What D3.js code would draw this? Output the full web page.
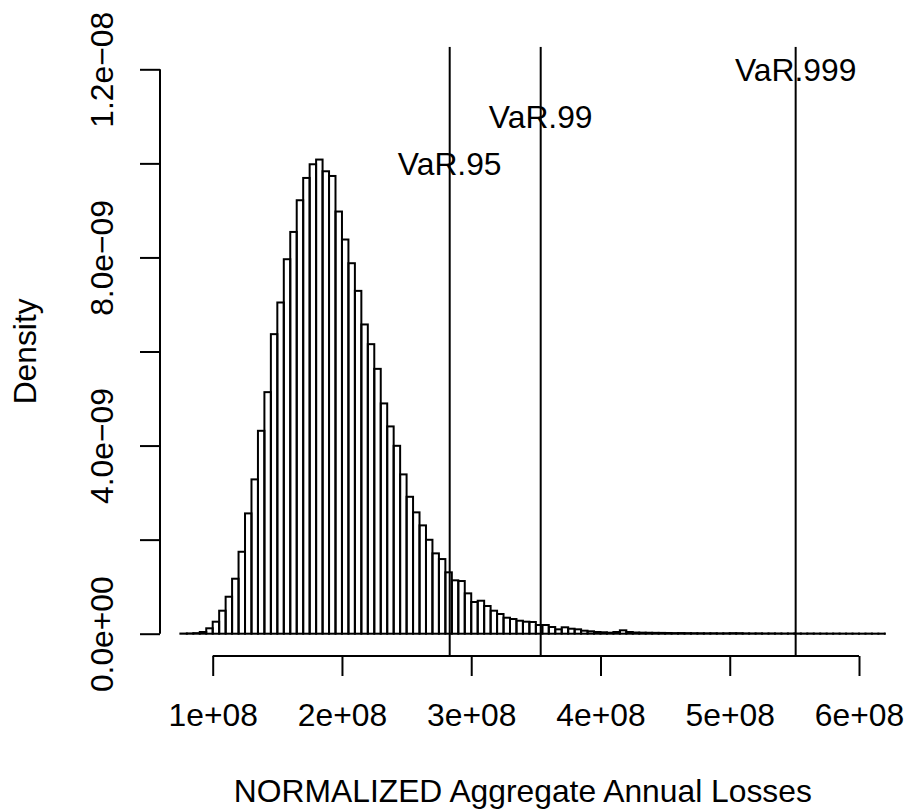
<!DOCTYPE html>
<html>
<head>
<meta charset="utf-8">
<script src="https://cdn.jsdelivr.net/npm/d3@7"></script>
<style>
  html, body { margin: 0; padding: 0; background: #fff; }
  svg { display: block; }
  text { font-family: "Liberation Sans", Arial, Helvetica, sans-serif; fill: #000; }
</style>
</head>
<body>
<svg id="chart" width="907" height="810"></svg>
<script>
// ---- Data ----
const binStart = 7.5e7;     // left edge of first bin
const binWidth = 5e6;       // histogram bin width
// density per bin, in units of 1e-9
const densityE9 = [
  0.003, 0.006, 0.012, 0.036, 0.115, 0.255, 0.489, 0.786, 1.169, 1.742,
  2.558, 3.281, 4.314, 5.136, 6.369, 7.042, 7.962, 8.542, 9.216, 9.690,
  9.981, 10.081, 9.832, 9.732, 8.976, 8.381, 7.877, 7.289, 6.575, 6.156,
  5.631, 4.896, 4.407, 3.995, 3.387, 2.911, 2.580, 2.303, 1.997, 1.708,
  1.587, 1.305, 1.135, 1.120, 0.858, 0.674, 0.701, 0.589, 0.489, 0.419,
  0.340, 0.312, 0.276, 0.255, 0.249, 0.185, 0.185, 0.142, 0.093, 0.136,
  0.106, 0.093, 0.064, 0.051, 0.036, 0.030, 0.021, 0.036, 0.072, 0.036,
  0.025, 0.022, 0.020, 0.018, 0.017, 0.015, 0.013, 0.014, 0.012, 0.011,
  0.010, 0.009, 0.010, 0.008, 0.009, 0.012, 0.011, 0.007, 0.006, 0.007,
  0.005, 0.006, 0.005, 0.004, 0.005, 0.004, 0.003, 0.004, 0.003, 0.003,
  0.002, 0.003, 0.002, 0.002, 0.002, 0.001, 0.002, 0.001, 0.001, 0.001
];
const varValues = [2.8335e8, 3.5375e8, 5.510e8];
const varLabels = ["VaR.95", "VaR.99", "VaR.999"];
const varLabelY = [1.0e-8, 1.1e-8, 1.2e-8];
const xTicks = [1e8, 2e8, 3e8, 4e8, 5e8, 6e8];
const xTickLabels = ["1e+08", "2e+08", "3e+08", "4e+08", "5e+08", "6e+08"];
const yTicks = [0, 2e-9, 4e-9, 6e-9, 8e-9, 1.0e-8, 1.2e-8];
const yTickLabels = ["0.0e+00", "", "4.0e\u221209", "", "8.0e\u221209", "", "1.2e\u221208"];
const xTitle = "NORMALIZED Aggregate Annual Losses";
const yTitle = "Density";

// ---- Layout ----
const plot = { left: 160, right: 885.7, top: 46.7, bottom: 656 };
const fontSize = 31.8;
const lw = 2;

const svg = d3.select("#chart");

const x = d3.scaleLinear().domain([8e7, 6e8]).range([186.85, 859]);
const y = d3.scaleLinear().domain([0, 1.2e-8]).range([633.7, 69.3]);

const bins = densityE9.map((d, i) => ({
  x0: binStart + i * binWidth,
  x1: binStart + (i + 1) * binWidth,
  d: d * 1e-9
}));

svg.append("defs").append("clipPath").attr("id", "plotclip")
  .append("rect")
  .attr("x", plot.left).attr("y", plot.top)
  .attr("width", plot.right - plot.left).attr("height", plot.bottom - plot.top);

const g = svg.append("g").attr("clip-path", "url(#plotclip)");

// bars
g.selectAll("rect.bar").data(bins).enter().append("rect")
  .attr("class", "bar")
  .attr("x", b => x(b.x0))
  .attr("width", b => x(b.x1) - x(b.x0))
  .attr("y", b => y(b.d))
  .attr("height", b => y(0) - y(b.d))
  .attr("fill", "none")
  .attr("stroke", "#000")
  .attr("stroke-width", lw);

// VaR lines
g.selectAll("line.var").data(varValues).enter().append("line")
  .attr("x1", v => x(v)).attr("x2", v => x(v))
  .attr("y1", plot.top).attr("y2", plot.bottom)
  .attr("stroke", "#000").attr("stroke-width", lw);

// VaR labels
svg.selectAll("text.varlab").data(varValues).enter().append("text")
  .attr("x", v => x(v))
  .attr("y", (v, i) => y(varLabelY[i]) + 11.5)
  .attr("text-anchor", "middle")
  .attr("font-size", fontSize)
  .text((v, i) => varLabels[i]);

// x axis
const xAxis = d3.axisBottom(x).tickValues(xTicks).tickSize(20)
  .tickFormat((d, i) => xTickLabels[i]).tickSizeOuter(0);
const gx = svg.append("g").attr("transform", `translate(0,${plot.bottom})`).call(xAxis);
gx.select(".domain").attr("d", `M${x(xTicks[0])},0H${x(xTicks[xTicks.length - 1])}`)
  .attr("stroke", "#000").attr("stroke-width", lw);
gx.selectAll(".tick line").attr("stroke", "#000").attr("stroke-width", lw);
gx.selectAll(".tick text").attr("font-size", fontSize)
  .attr("font-family", "'Liberation Sans', Arial, Helvetica, sans-serif")
  .attr("dy", null).attr("y", 70);

// y axis
const yAxis = d3.axisLeft(y).tickValues(yTicks).tickSize(20)
  .tickFormat((d, i) => yTickLabels[i]).tickSizeOuter(0);
const gy = svg.append("g").attr("transform", `translate(${plot.left},0)`).call(yAxis);
gy.select(".domain").attr("d", `M0,${y(yTicks[0])}V${y(yTicks[yTicks.length - 1])}`)
  .attr("stroke", "#000").attr("stroke-width", lw);
gy.selectAll(".tick line").attr("stroke", "#000").attr("stroke-width", lw);
gy.selectAll(".tick text").attr("font-size", fontSize)
  .attr("font-family", "'Liberation Sans', Arial, Helvetica, sans-serif")
  .attr("x", null).attr("dy", null)
  .attr("text-anchor", "middle")
  .attr("transform", `translate(${113 - plot.left},0) rotate(-90)`)
  .attr("y", 0);

// titles
svg.append("text")
  .attr("x", (plot.left + plot.right) / 2).attr("y", 802)
  .attr("text-anchor", "middle").attr("font-size", fontSize)
  .text(xTitle);
svg.append("text")
  .attr("transform", `translate(36,${(plot.top + plot.bottom) / 2}) rotate(-90)`)
  .attr("text-anchor", "middle").attr("font-size", fontSize)
  .text(yTitle);
</script>
</body>
</html>
